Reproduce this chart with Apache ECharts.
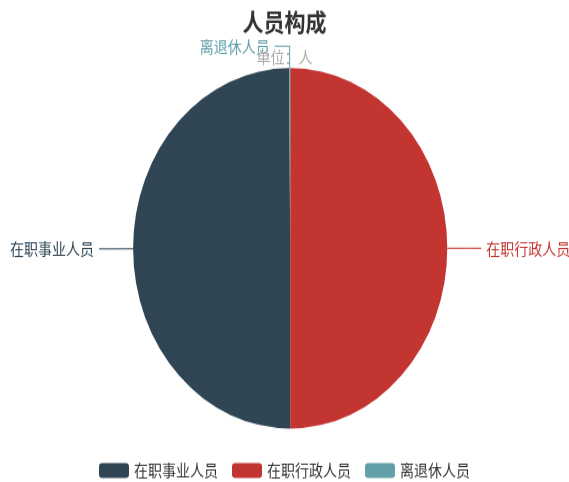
<!DOCTYPE html>
<html>
<head>
<meta charset="utf-8">
<script src="https://cdn.jsdelivr.net/npm/echarts@6/dist/echarts.min.js"></script>
<style>
html,body{margin:0;padding:0;background:#fff;overflow:hidden;}
#wrap{width:569px;height:482px;overflow:hidden;}
#chart{width:569px;height:420px;transform:scaleY(1.1476);transform-origin:0 0;}
</style>
</head>
<body>
<div id="wrap"><div id="chart"></div></div>
<script>
var categories = ['在职行政人员', '在职事业人员', '离退休人员'];
var values = [1000, 998, 2];
var legendOrder = ['在职事业人员', '在职行政人员', '离退休人员'];
var colors = ['#c23531', '#2f4554', '#61a0a8'];

var chart = echarts.init(document.getElementById('chart'));
chart.setOption({
  animation: false,
  color: colors,
  textStyle: {fontFamily: 'Noto Sans CJK SC'},
  title: {
    text: '人员构成',
    subtext: '单位：人',
    left: 'center',
    top: 4,
    itemGap: 13,
    textStyle: {fontSize: 21, fontWeight: 'bold', color: '#333', fontFamily: 'Noto Sans CJK SC'},
    subtextStyle: {fontSize: 14, color: '#aaa', fontFamily: 'Noto Sans CJK SC'}
  },
  legend: {
    data: legendOrder,
    top: 398,
    left: 'center',
    itemWidth: 30,
    itemHeight: 13,
    itemGap: 14,
    textStyle: {fontSize: 14, color: '#333', fontFamily: 'Noto Sans CJK SC'}
  },
  series: [{
    type: 'pie',
    radius: '74.8%',
    center: ['51%', '51.5%'],
    startAngle: 90,
    label: {show: true, fontSize: 14, color: 'inherit', fontFamily: 'Noto Sans CJK SC', overflow: 'none'},
    labelLine: {length: 19, length2: 15},
    data: categories.map(function (c, i) { return {name: c, value: values[i]}; })
  }]
});
</script>
</body>
</html>
